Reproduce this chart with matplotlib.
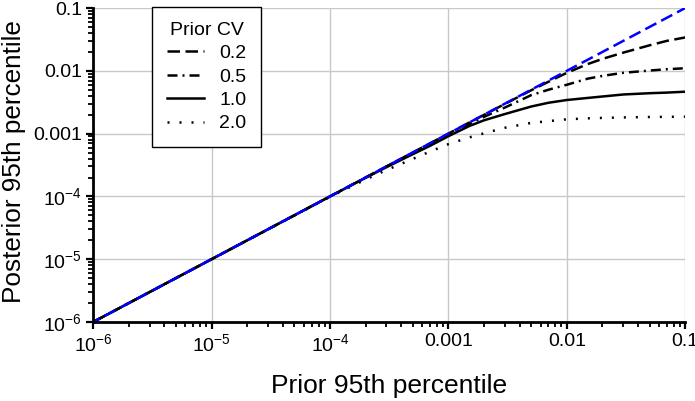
import matplotlib
matplotlib.use("Agg")
import matplotlib.pyplot as plt
from matplotlib.ticker import FixedLocator, LogLocator, NullFormatter

plt.rcParams['font.family'] = ['Liberation Sans', 'DejaVu Sans']
plt.rcParams['mathtext.fontset'] = 'custom'
plt.rcParams['mathtext.rm'] = 'Liberation Sans'
plt.rcParams['mathtext.it'] = 'Liberation Sans:italic'

# prior 95th percentile (x) and posterior 95th percentile
prior = [1e-6, 1e-5, 1e-4, 2e-4, 3e-4, 5e-4, 7e-4, 1e-3, 1.5e-3, 2e-3, 3e-3,
         5e-3, 7e-3, 1e-2, 1.5e-2, 2e-2, 3e-2, 5e-2, 7e-2, 1e-1]
post_02 = [1e-6, 1e-5, 1e-4, 2e-4, 3e-4, 5e-4, 7e-4, 0.001, 0.0015, 0.00199, 0.00297,
           0.0049, 0.0067, 0.0093, 0.0128, 0.0155, 0.0195, 0.0255, 0.03, 0.034]
post_05 = [1e-6, 1e-5, 1e-4, 2e-4, 0.0003, 0.000495, 0.00069, 0.00097, 0.00142, 0.00185, 0.0026,
           0.0041, 0.005, 0.006, 0.0075, 0.0083, 0.0093, 0.0101, 0.0106, 0.011]
post_10 = [1e-6, 1e-5, 1e-4, 0.000198, 0.000292, 0.00047, 0.00064, 0.00091, 0.00132, 0.00163, 0.00205,
           0.0027, 0.0031, 0.00343, 0.0037, 0.0039, 0.0042, 0.0044, 0.0045, 0.00465]
post_20 = [1e-6, 1e-5, 0.0000985, 0.000186, 0.000263, 0.000395, 0.000518, 0.00068, 0.00087, 0.00101, 0.00124,
           0.00148, 0.00158, 0.00169, 0.00175, 0.00178, 0.00181, 0.00184, 0.00185, 0.00186]
cv_labels = ['0.2', '0.5', '1.0', '2.0']

tick_vals = [1e-6, 1e-5, 1e-4, 1e-3, 1e-2, 1e-1]
tick_text = [r'$10^{-6}$', r'$10^{-5}$', r'$10^{-4}$', '0.001', '0.01', '0.1']

fig = plt.figure(figsize=(6.95, 4.01), dpi=100)
ax = fig.add_axes([0.134, 0.197, 0.852, 0.783])

lw = 1.8
ax.plot(prior, post_02, color='black', lw=lw, ls=(0, (5, 2.2)), label=cv_labels[0])
ax.plot(prior, post_05, color='black', lw=lw, ls=(0, (4, 2, 0.8, 2)), label=cv_labels[1])
ax.plot(prior, post_10, color='black', lw=lw, ls='-', label=cv_labels[2])
ax.plot(prior, post_20, color='black', lw=lw, ls=(0, (0.8, 4)), label=cv_labels[3])
ax.plot(prior, prior, color='blue', lw=lw, ls=(2, (5, 2.2)))

ax.set_xscale('log')
ax.set_yscale('log')
ax.set_xlim(1e-6, 0.1)
ax.set_ylim(1e-6, 0.1)

for axis in (ax.xaxis, ax.yaxis):
    axis.set_major_locator(FixedLocator(tick_vals))
    axis.set_minor_locator(LogLocator(base=10, subs=range(2, 10), numticks=20))
    axis.set_minor_formatter(NullFormatter())
ax.set_xticklabels(tick_text)
ax.set_yticklabels(tick_text)

ax.grid(True, which='major', color='#c8c8c8', lw=1)
ax.set_axisbelow(True)
for s in ['top', 'right']:
    ax.spines[s].set_visible(False)
for s in ['left', 'bottom']:
    ax.spines[s].set_linewidth(2)
ax.tick_params(which='major', direction='out', length=5, width=1.6, labelsize=14, pad=3)
ax.tick_params(which='minor', direction='out', length=3.5, width=1.3)

ax.set_xlabel('Prior 95th percentile', fontsize=19, labelpad=14)
ax.set_ylabel('Posterior 95th percentile', fontsize=18.8, labelpad=5, y=0.51)

leg = ax.legend(title='Prior CV', loc='upper left', bbox_to_anchor=(0.1, 1.003),
                borderaxespad=0, fontsize=14, title_fontsize=14, handlelength=1.9,
                fancybox=False, edgecolor='black', framealpha=1, borderpad=0.75,
                labelspacing=0.3, handletextpad=0.8)
leg.get_frame().set_linewidth(1)

fig.savefig('out.png', dpi=100)
